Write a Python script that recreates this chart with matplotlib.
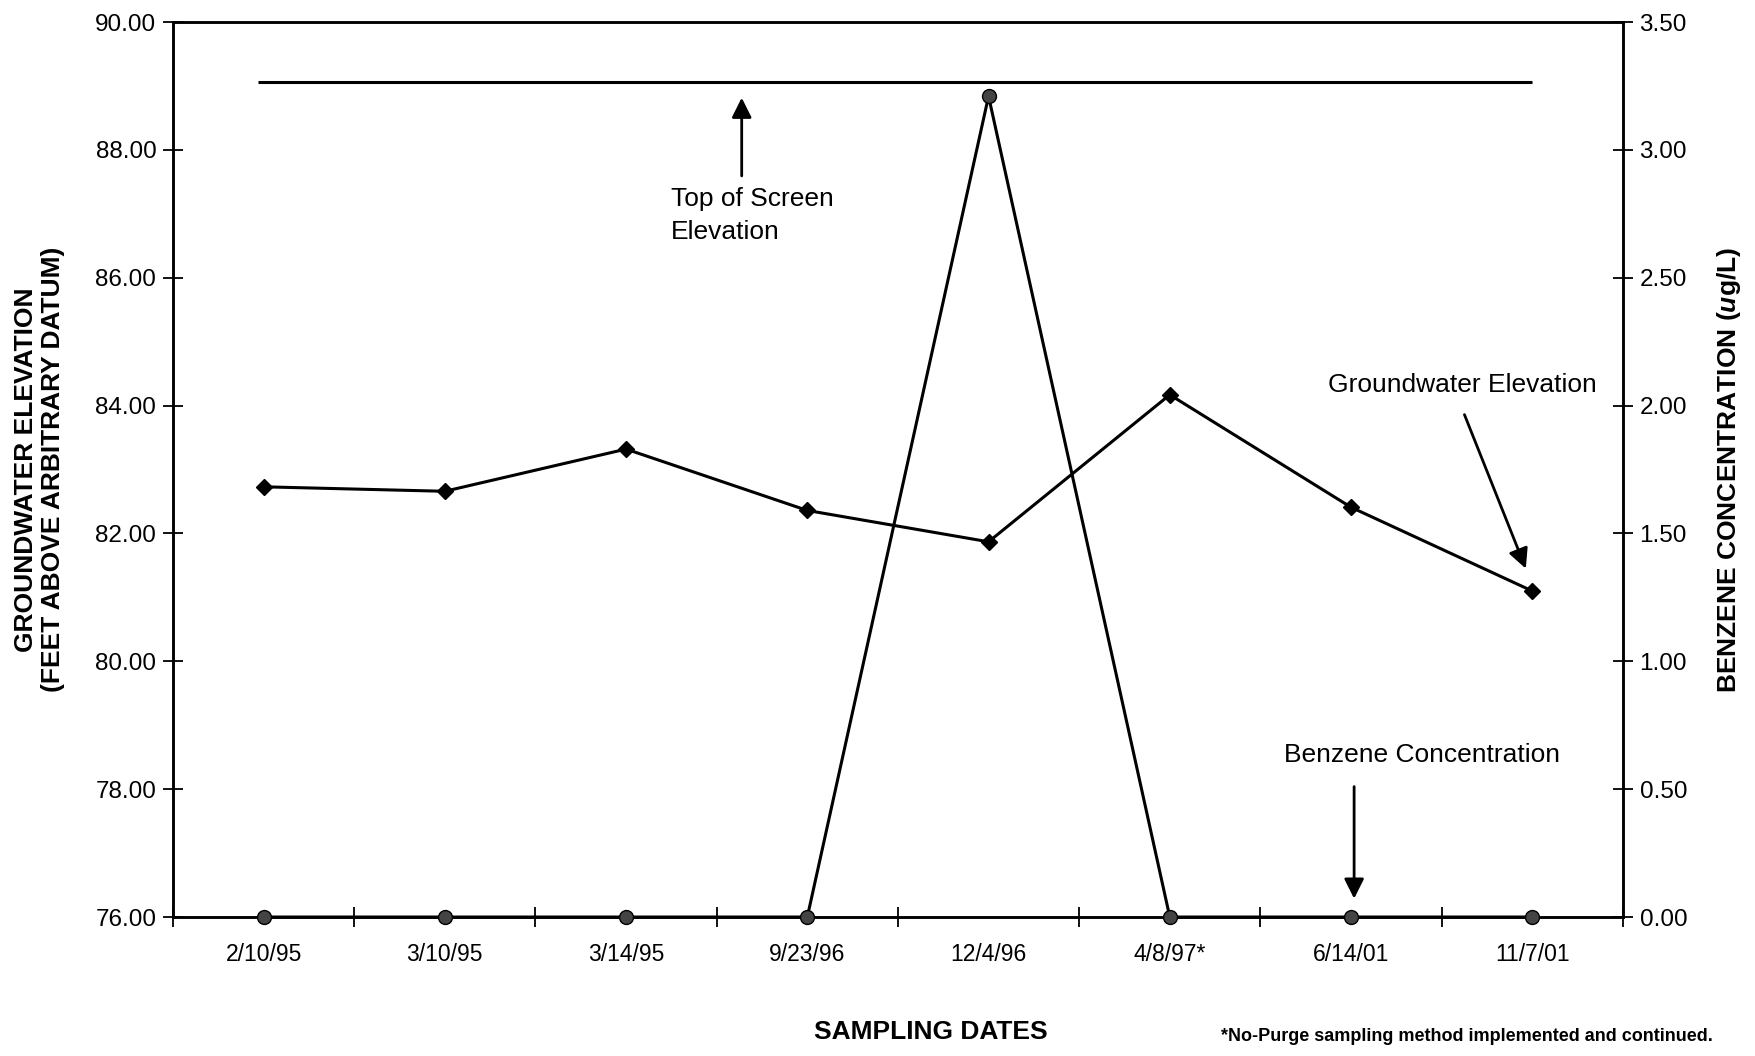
import matplotlib
matplotlib.use("Agg")
import matplotlib.pyplot as plt
import numpy as np

plt.rcParams['font.family'] = ['Liberation Sans', 'DejaVu Sans']
plt.rcParams['mathtext.fontset'] = 'custom'
plt.rcParams['mathtext.it'] = 'Liberation Sans:italic:bold'
plt.rcParams['mathtext.rm'] = 'Liberation Sans:bold'

# Sampling events
dates = ["2/10/95", "3/10/95", "3/14/95", "9/23/96", "12/4/96", "4/8/97*", "6/14/01", "11/7/01"]
# Groundwater elevation (feet above arbitrary datum)
gw_elev = [82.73, 82.66, 83.32, 82.36, 81.87, 84.17, 82.41, 81.10]
# Benzene concentration (ug/L)
benzene = [0.0, 0.0, 0.0, 0.0, 3.21, 0.0, 0.0, 0.0]
# Top of well screen elevation (feet)
top_of_screen = 89.07

left_ticks = [76, 78, 80, 82, 84, 86, 88, 90]
right_ticks = [0.0, 0.5, 1.0, 1.5, 2.0, 2.5, 3.0, 3.5]

fig = plt.figure(figsize=(17.56, 10.56), dpi=100)
ax = fig.add_axes([0.0985, 0.1316, 0.8257, 0.8475])
ax2 = ax.twinx()

x = np.arange(len(dates))

# Top of screen reference line
ax.hlines(top_of_screen, x[0] - 0.03, x[-1], color='black', lw=2.2, zorder=2)

# Groundwater elevation series
ax.plot(x, gw_elev, color='black', lw=2.2, marker='D', markersize=8,
        markerfacecolor='black', markeredgecolor='black', zorder=4)

# Benzene concentration series
ax2.plot(x, benzene, color='black', lw=2.2, marker='o', markersize=10,
         markerfacecolor='#444444', markeredgecolor='black', zorder=4, clip_on=False)

ax.set_xlim(-0.5, len(dates) - 0.5)
ax.set_ylim(76, 90)
ax2.set_ylim(0, 3.5)

ax.set_yticks(left_ticks)
ax.set_yticklabels([f"{v:.2f}" for v in left_ticks])
ax2.set_yticks(right_ticks)
ax2.set_yticklabels([f"{v:.2f}" for v in right_ticks])

# Category labels centred on points, tick marks on category boundaries
ax.set_xticks(x)
ax.set_xticklabels(dates)
ax.set_xticks(np.arange(len(dates) + 1) - 0.5, minor=True)
ax.tick_params(axis='x', which='major', length=0, pad=19, labelsize=16.5)
ax.tick_params(axis='x', which='minor', direction='inout', length=14, width=1.3)
ax.tick_params(axis='y', direction='inout', length=14, width=1.3, labelsize=17.5, pad=5)
ax2.tick_params(axis='y', direction='inout', length=14, width=1.3, labelsize=17.5, pad=5)

for a in (ax, ax2):
    for s in a.spines.values():
        s.set_linewidth(1.8)

# Axis titles
ax.set_ylabel("GROUNDWATER ELEVATION\n(FEET ABOVE ARBITRARY DATUM)",
              fontsize=19, fontweight='bold', linespacing=1.15)
ax.yaxis.set_label_coords(-0.0745, 0.5)
ax2.set_ylabel(r"BENZENE CONCENTRATION ($\mathit{u}$g/L)",
               fontsize=19, fontweight='bold')
ax2.yaxis.set_label_coords(1.0634, 0.5)
fig.text(0.530, 0.0227, "SAMPLING DATES", ha='center', va='center',
         fontsize=19, fontweight='bold')
fig.text(0.8356, 0.018, "*No-Purge sampling method implemented and continued.",
         ha='center', va='center', fontsize=13, fontweight='bold')

# Callouts
arrow = dict(arrowstyle='-|>', color='black', lw=2.0, mutation_scale=30)
ax.annotate("", xy=(2.638, 88.86), xytext=(2.638, 87.55), arrowprops=arrow)
ax.text(2.249, 87.42, "Top of Screen\nElevation", fontsize=19, ha='left', va='top',
        linespacing=1.45)

ax.text(6.615, 84.32, "Groundwater Elevation", fontsize=19, ha='center', va='center')
ax.annotate("", xy=(6.97, 81.41), xytext=(6.62, 83.90), arrowprops=arrow)

ax2.text(6.39, 0.635, "Benzene Concentration", fontsize=19, ha='center', va='center')
ax2.annotate("", xy=(6.017, 0.061), xytext=(6.017, 0.521), arrowprops=arrow)

fig.savefig("out.png", dpi=100)
